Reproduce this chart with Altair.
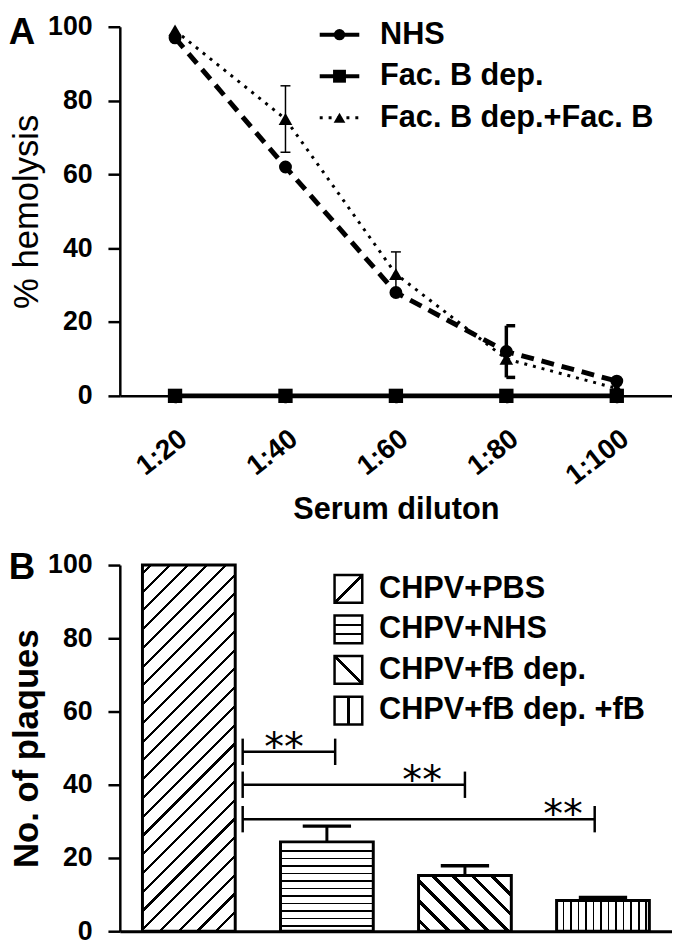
import altair as alt
import pandas as pd

FONT = "Liberation Sans"

# ---------------- Panel A data ----------------
dilutions = [20, 40, 60, 80, 100]
series_names = ["NHS", "Fac. B dep.", "Fac. B dep.+Fac. B"]
nhs_values = [97, 62, 28, 12, 4]
fbdep_values = [0, 0, 0, 0, 0]
fbdep_fb_values = [99, 75, 33, 10, 2]
nhs_err = [0, 0, 0, 7, 0]
fbdep_err = [0, 0, 0, 0, 0]
fbdep_fb_err = [0, 9, 6, 0, 0]

# ---------------- Panel B data ----------------
groups = ["CHPV+PBS", "CHPV+NHS", "CHPV+fB dep.", "CHPV+fB dep. +fB"]
group_pos = [1, 2, 3, 4]
plaques = [100, 24.4, 15.2, 8.4]
plaques_err = [0, 4.3, 2.7, 0.8]
sig_start = [1.39, 1.39, 1.39]
sig_end = [2.06, 3.0, 3.94]
sig_level = [49, 40, 30.6]
sig_star_x = [1.69, 2.69, 3.71]
sig_text = ["**", "**", "**"]

# ---------------- sizes / styles ----------------
W, HA, HB = 558, 373, 370
BAR_HALF = 0.336

styleA = {
    "NHS": dict(dash=[13, 8], ldash=[16, 8], width=5, shape="circle", size=170, ew=3.5,
                cap=(0, 1.6), lshape="circle", lsize=130),
    "Fac. B dep.": dict(dash=[1, 0], ldash=[1, 0], width=5, shape="square", size=210, ew=1.5,
                        cap=(-0.9, 0.9), lshape="square", lsize=170),
    "Fac. B dep.+Fac. B": dict(dash=[3, 6], ldash=[3, 6], width=3, shape="triangle-up", size=190,
                               ew=1.5, cap=(-0.9, 0.9), lshape="triangle-up", lsize=140),
}


def stripe_stops(length, period, thick, phase):
    stops = [alt.GradientStop(offset=0, color="white")]
    c = phase
    last = 0.0
    while c - thick / 2 < length:
        a = round(max(last, (c - thick / 2) / length), 5)
        b = round(min(1.0, (c + thick / 2) / length), 5)
        if b > a:
            stops += [alt.GradientStop(offset=a, color="white"),
                      alt.GradientStop(offset=a, color="black"),
                      alt.GradientStop(offset=b, color="black"),
                      alt.GradientStop(offset=b, color="white")]
            last = b
        c += period
    stops.append(alt.GradientStop(offset=1, color="white"))
    return stops


def hatch(kind, w, h, period, thick, phase):
    if kind == "h":
        return alt.LinearGradient(gradient="linear", stops=stripe_stops(h, period, thick, phase),
                                  x1=0, y1=0, x2=0, y2=1)
    if kind == "v":
        return alt.LinearGradient(gradient="linear", stops=stripe_stops(w, period, thick, phase),
                                  x1=0, y1=0, x2=1, y2=0)
    s = (w + h) / (w * w + h * h)
    L = (w + h) / 2 ** 0.5
    stops = stripe_stops(L, period, thick, phase)
    if kind == "/":
        return alt.LinearGradient(gradient="linear", stops=stops, x1=0, y1=0, x2=s * w, y2=s * h)
    return alt.LinearGradient(gradient="linear", stops=stops, x1=0, y1=1, x2=s * w, y2=1 - s * h)


# ---------------- Panel A ----------------
rows = []
for name, vals, errs in zip(series_names, [nhs_values, fbdep_values, fbdep_fb_values],
                            [nhs_err, fbdep_err, fbdep_fb_err]):
    st = styleA[name]
    for d, v, e in zip(dilutions, vals, errs):
        rows.append({"dilution": d, "series": name, "value": v, "err": e,
                     "lo": v - e, "hi": v + e, "cl": d + st["cap"][0], "cr": d + st["cap"][1]})
dfA = pd.DataFrame(rows)


def xA(field):
    return alt.X(field, type="quantitative",
                 scale=alt.Scale(domain=[10, 110], nice=False, zero=False),
                 axis=alt.Axis(values=dilutions, labelExpr="'1:' + datum.value", labelAngle=-38,
                               labelFontSize=28, labelPadding=22, tickSize=7,
                               title="Serum diluton", titleFontSize=31, titleFontWeight="bold",
                               titlePadding=5))


def yA(field):
    return alt.Y(field, type="quantitative", scale=alt.Scale(domain=[0, 100], nice=False),
                 axis=alt.Axis(values=[0, 20, 40, 60, 80, 100], labelFontSize=27, tickSize=12,
                               labelPadding=16, title="% hemolysis", titleFontSize=35,
                               titleFontWeight="normal", titlePadding=3))


layersA = []
for name in series_names:
    st = styleA[name]
    d = dfA[dfA.series == name]
    layersA.append(alt.Chart(d).mark_line(color="black", strokeWidth=st["width"],
                                          strokeDash=st["dash"])
                   .encode(x=xA("dilution"), y=yA("value")))
for name in series_names:
    st = styleA[name]
    d = dfA[dfA.series == name]
    layersA.append(alt.Chart(d).mark_point(filled=True, color="black", opacity=1,
                                           shape=st["shape"], size=st["size"])
                   .encode(x=xA("dilution"), y=yA("value")))
for name in series_names:
    st = styleA[name]
    d = dfA[(dfA.series == name) & (dfA.err > 0)]
    if len(d) == 0:
        continue
    layersA.append(alt.Chart(d).mark_rule(color="black", strokeWidth=st["ew"])
                   .encode(x=xA("dilution"), y=yA("lo"), y2="hi"))
    layersA.append(alt.Chart(d).mark_rule(color="black", strokeWidth=st["ew"])
                   .encode(x=xA("cl"), x2="cr", y=yA("hi")))
    layersA.append(alt.Chart(d).mark_rule(color="black", strokeWidth=st["ew"])
                   .encode(x=xA("cl"), x2="cr", y=yA("lo")))

# legend A
for i, name in enumerate(series_names):
    st = styleA[name]
    ry = 8 + 42 * i
    ld = pd.DataFrame({"name": [name]})
    layersA.append(alt.Chart(ld).mark_rule(color="black", strokeWidth=min(st["width"], 4),
                                           strokeDash=st["ldash"])
                   .encode(x=alt.value(202), x2=alt.value(242), y=alt.value(ry)))
    layersA.append(alt.Chart(ld).mark_point(filled=True, color="black", opacity=1,
                                            shape=st["lshape"], size=st["lsize"])
                   .encode(x=alt.value(222), y=alt.value(ry)))
    layersA.append(alt.Chart(ld).mark_text(align="left", baseline="middle", font=FONT,
                                           fontSize=31, fontWeight="bold", color="black")
                   .encode(x=alt.value(263), y=alt.value(ry), text="name:N"))

layersA.append(alt.Chart(pd.DataFrame({"t": ["A"]})).mark_text(
    align="center", baseline="middle", font=FONT, fontSize=37, fontWeight="bold", color="black")
    .encode(x=alt.value(-99), y=alt.value(6), text="t:N"))

panelA = alt.layer(*layersA).properties(width=W, height=HA)

# ---------------- Panel B ----------------
dfB = pd.DataFrame({"group": groups, "pos": group_pos, "plaques": plaques, "err": plaques_err})
dfB["lo"] = dfB.pos - BAR_HALF
dfB["hi"] = dfB.pos + BAR_HALF
dfB["base"] = 0
dfB["top"] = dfB.plaques + dfB.err
dfB["cl"] = dfB.pos - 0.175
dfB["cr"] = dfB.pos + 0.175

dfS = pd.DataFrame({"start": sig_start, "end": sig_end, "level": sig_level,
                    "sx": sig_star_x, "txt": sig_text})
dfS["c_lo"] = dfS.level - 3.6
dfS["c_hi"] = dfS.level + 3.6


def xB(field):
    return alt.X(field, type="quantitative",
                 scale=alt.Scale(domain=[0.5, 4.5], nice=False, zero=False),
                 axis=alt.Axis(labels=False, ticks=False, title=None, domainWidth=3))


def yB(field):
    return alt.Y(field, type="quantitative", scale=alt.Scale(domain=[0, 100], nice=False),
                 axis=alt.Axis(values=[0, 20, 40, 60, 80, 100], labelFontSize=27, tickSize=12,
                               labelPadding=16, title="No. of plaques", titleFontSize=35,
                               titleFontWeight="bold", titlePadding=3))


bar_hatch = [("/", 13.4, 2.2, 6), ("h", 7.6, 1.6, 9), ("\\", 14, 3.5, 8), ("v", 7.6, 1.6, 7)]
legend_hatch = [("/", 100, 2.6, 19.8), ("h", 9.3, 2.4, 9.3), ("\\", 100, 2.6, 19.8), ("v", 100, 2.4, 14)]

layersB = []
for i, g in enumerate(groups):
    kind, per, th, ph = bar_hatch[i]
    w_px = 2 * BAR_HALF * W / 4
    h_px = plaques[i] * HB / 100
    fill = hatch(kind, w_px, h_px, per, th, ph)
    layersB.append(alt.Chart(dfB).transform_filter(alt.datum.group == g)
                   .mark_rect(fill=fill, stroke="black", strokeWidth=3)
                   .encode(x=xB("lo"), x2="hi", y=yB("base"), y2="plaques"))

errB = dfB[dfB.err > 0]
layersB.append(alt.Chart(errB).mark_rule(color="black", strokeWidth=3)
               .encode(x=xB("pos"), y=yB("plaques"), y2="top"))
layersB.append(alt.Chart(errB).mark_rule(color="black", strokeWidth=3.5)
               .encode(x=xB("cl"), x2="cr", y=yB("top")))

layersB.append(alt.Chart(dfS).mark_rule(color="black", strokeWidth=2.5)
               .encode(x=xB("start"), x2="end", y=yB("level")))
layersB.append(alt.Chart(dfS).mark_rule(color="black", strokeWidth=2.5)
               .encode(x=xB("start"), y=yB("c_lo"), y2="c_hi"))
layersB.append(alt.Chart(dfS).mark_rule(color="black", strokeWidth=2.5)
               .encode(x=xB("end"), y=yB("c_lo"), y2="c_hi"))
layersB.append(alt.Chart(dfS).mark_text(font="DejaVu Sans", fontSize=40, color="black",
                                        align="center", baseline="alphabetic", dy=8)
               .encode(x=xB("sx"), y=yB("level"), text="txt:N"))

# legend B
for i, g in enumerate(groups):
    ry = 24 + 41 * i
    kind, per, th, ph = legend_hatch[i]
    fill = hatch(kind, 28, 28, per, th, ph)
    ld = pd.DataFrame({"name": [g]})
    layersB.append(alt.Chart(ld).mark_square(size=784, fill=fill, stroke="black", strokeWidth=2.5,
                                             opacity=1)
                   .encode(x=alt.value(231), y=alt.value(ry)))
    layersB.append(alt.Chart(ld).mark_text(align="left", baseline="middle", font=FONT,
                                           fontSize=31, fontWeight="bold", color="black")
                   .encode(x=alt.value(262), y=alt.value(ry), text="name:N"))

layersB.append(alt.Chart(pd.DataFrame({"t": ["B"]})).mark_text(
    align="center", baseline="middle", font=FONT, fontSize=37, fontWeight="bold", color="black")
    .encode(x=alt.value(-99), y=alt.value(3), text="t:N"))

panelB = alt.layer(*layersB).properties(width=W, height=HB)

chart = (alt.vconcat(panelA, panelB, spacing=24)
         .properties(padding={"top": 0, "bottom": -3, "left": 0, "right": 0}, background="white")
         .configure_view(stroke=None)
         .configure_axis(labelFont=FONT, labelFontWeight="bold", labelColor="black",
                         titleFont=FONT, titleColor="black", domainColor="black",
                         tickColor="black", domainWidth=2.5, tickWidth=2.5, grid=False))

chart.save("out.html", embed_options={"renderer": "svg", "actions": False})
